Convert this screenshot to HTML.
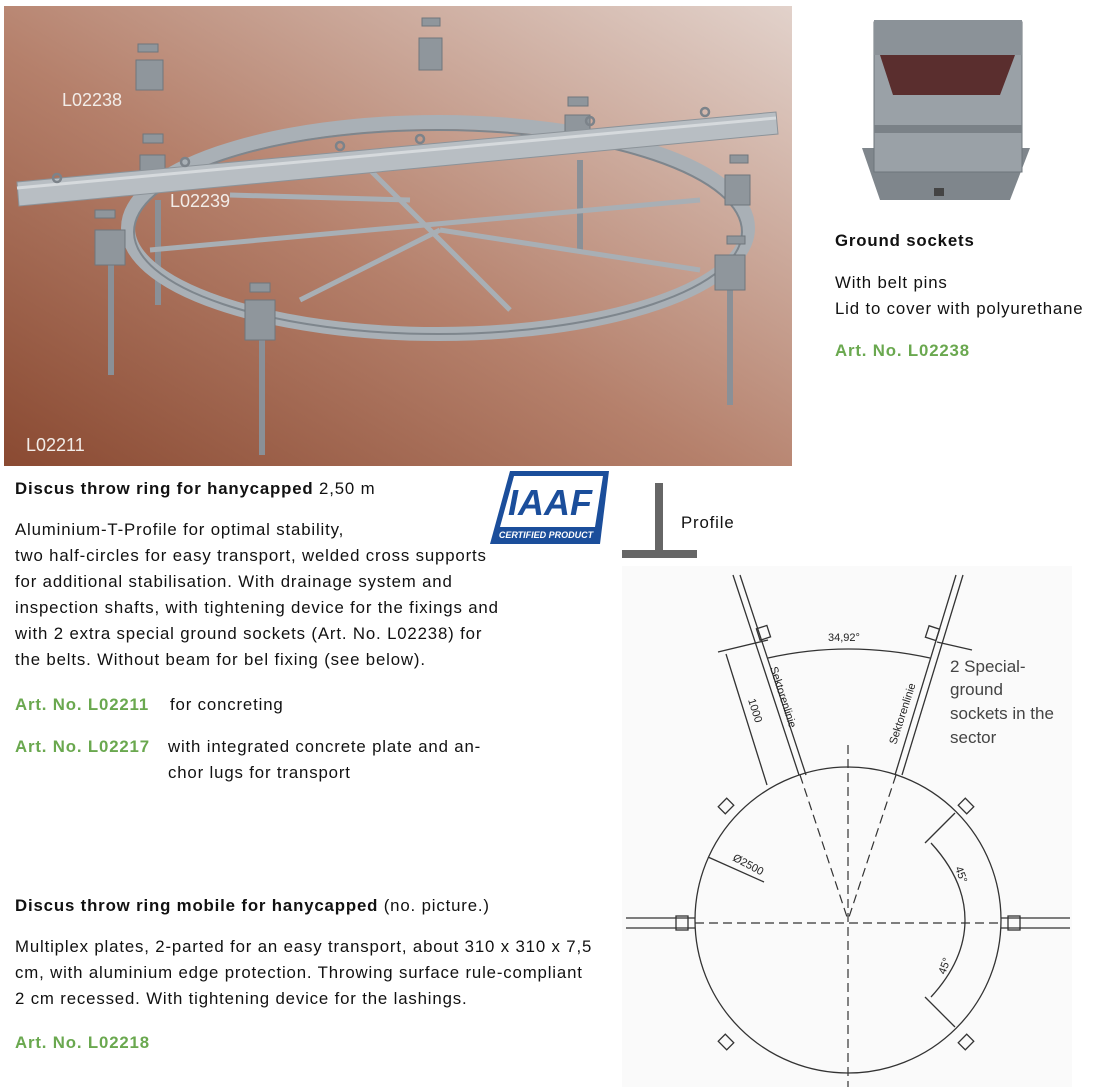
<!DOCTYPE html>
<html><head><meta charset="utf-8"><style>
body{margin:0;width:1104px;height:1087px;background:#fff;position:relative;overflow:hidden;font-family:"Liberation Sans",sans-serif;color:#111}
.t{position:absolute;font-size:16.8px;letter-spacing:0.85px;line-height:26px;white-space:nowrap}
.g{color:#6aa84f;font-weight:bold}
b{font-weight:bold}
</style></head><body>
<svg width="1104" height="1087" style="position:absolute;left:0;top:0">
<defs>
<linearGradient id="bg" x1="0" y1="1" x2="1" y2="0">
<stop offset="0" stop-color="#8a4a32"/><stop offset="0.45" stop-color="#b5806b"/><stop offset="1" stop-color="#e2d2cb"/>
</linearGradient>
</defs>
<rect x="4" y="6" width="788" height="460" fill="url(#bg)"/>
<g stroke="#8a9097" stroke-width="6">
<line x1="111" y1="250" x2="111" y2="375"/>
<line x1="262" y1="330" x2="262" y2="455"/>
<line x1="730" y1="290" x2="730" y2="405"/>
<line x1="580" y1="160" x2="580" y2="250"/>
<line x1="158" y1="200" x2="158" y2="305"/>
</g>
<ellipse cx="438" cy="228" rx="310" ry="106" fill="none" stroke="#a9b0b6" stroke-width="14"/>
<ellipse cx="438" cy="232" rx="304" ry="102" fill="none" stroke="#7e868d" stroke-width="2"/>
<g stroke="#a8afb5" stroke-width="5">
<line x1="150" y1="250" x2="700" y2="200"/>
<line x1="370" y1="170" x2="510" y2="310"/>
<line x1="300" y1="300" x2="440" y2="230"/>
<line x1="440" y1="230" x2="700" y2="270"/>
<line x1="230" y1="195" x2="410" y2="200"/>
</g>
<g fill="#8f969c" stroke="#6f767c">
<rect x="95" y="230" width="30" height="35"/><rect x="245" y="300" width="30" height="40"/>
<rect x="715" y="255" width="30" height="35"/><rect x="725" y="175" width="25" height="30"/>
<rect x="140" y="155" width="25" height="25"/><rect x="565" y="115" width="25" height="22"/>
<rect x="136" y="60" width="27" height="30"/><rect x="419" y="38" width="23" height="32"/>
<rect x="138" y="44" width="20" height="8"/><rect x="422" y="18" width="18" height="8"/>
<rect x="143" y="134" width="20" height="9"/><rect x="568" y="97" width="20" height="9"/>
<rect x="95" y="210" width="20" height="8"/><rect x="250" y="283" width="20" height="9"/>
<rect x="730" y="155" width="18" height="8"/><rect x="727" y="236" width="18" height="8"/>
</g>
<polygon points="17,182 776,112 778,134 19,206" fill="#b8bec3" stroke="#8c9399"/>
<line x1="17" y1="188" x2="776" y2="118" stroke="#d6dadd" stroke-width="3"/>
<g fill="none" stroke="#7c838a" stroke-width="2.5">
<circle cx="57" cy="178" r="4"/><circle cx="185" cy="162" r="4"/><circle cx="340" cy="146" r="4"/><circle cx="420" cy="139" r="4"/><circle cx="590" cy="121" r="4"/><circle cx="705" cy="112" r="4"/>
</g>
<text x="62" y="106" font-size="18" fill="#f2ece8" font-family="Liberation Sans">L02238</text>
<text x="170" y="207" font-size="18" fill="#f2ece8" font-family="Liberation Sans">L02239</text>
<text x="26" y="451" font-size="18" fill="#f2ece8" font-family="Liberation Sans">L02211</text>

<polygon points="862,148 1030,148 1010,200 880,200" fill="#7f868c"/>
<rect x="874" y="22" width="148" height="150" fill="#9aa1a7" stroke="#6e757b"/>
<rect x="874" y="125" width="148" height="8" fill="#7a8187"/>
<polygon points="880,55 1015,55 1000,95 893,95" fill="#5a2e2e"/>
<rect x="874" y="20" width="148" height="35" fill="#8b9298"/>
<rect x="934" y="188" width="10" height="8" fill="#444"/>

<g transform="translate(490,471)">
<polygon points="20,0 119,0 110,73 0,73" fill="#1b4e9b"/>
<polygon points="24,5 113,5 105,56 10,56" fill="#fff"/>
<text x="60" y="44" text-anchor="middle" font-size="36" font-weight="bold" font-style="italic" fill="#1b4e9b" font-family="Liberation Sans">IAAF</text>
<text x="56" y="67" text-anchor="middle" font-size="9" font-weight="bold" font-style="italic" fill="#fff" font-family="Liberation Sans">CERTIFIED PRODUCT</text>
</g>
<rect x="655" y="483" width="8" height="70" fill="#666"/>
<rect x="622" y="550" width="75" height="8" fill="#666"/>

<rect x="622" y="566" width="450" height="521" fill="#fafafa"/>
<g stroke="#333" fill="none" stroke-width="1.3">
<circle cx="848" cy="920" r="153"/>
<line x1="733" y1="575" x2="799" y2="775"/><line x1="740" y1="575" x2="806" y2="775"/>
<line x1="956" y1="575" x2="895" y2="775"/><line x1="963" y1="575" x2="902" y2="775"/>
<line x1="626" y1="918" x2="695" y2="918"/><line x1="626" y1="928" x2="695" y2="928"/>
<line x1="1001" y1="918" x2="1070" y2="918"/><line x1="1001" y1="928" x2="1070" y2="928"/>
<rect x="676" y="916" width="12" height="14"/><rect x="1008" y="916" width="12" height="14"/>
<rect x="758" y="627" width="11" height="12" transform="rotate(-18 763 633)"/>
<rect x="927" y="627" width="11" height="12" transform="rotate(18 932 633)"/>
<rect x="721" y="800" width="10" height="12" transform="rotate(45 726 806)"/>
<rect x="961" y="800" width="10" height="12" transform="rotate(-45 966 806)"/>
<rect x="721" y="1036" width="10" height="12" transform="rotate(-45 726 1042)"/>
<rect x="961" y="1036" width="10" height="12" transform="rotate(45 966 1042)"/>
<path d="M768 658 Q848 640 930 658"/>
<line x1="718" y1="652" x2="768" y2="640"/>
<line x1="726" y1="654" x2="767" y2="785"/>
<line x1="708" y1="857" x2="764" y2="882"/>
<line x1="937" y1="642" x2="972" y2="650"/>
<path d="M931 843 Q965 880 965 920 Q965 960 931 997"/>
<line x1="925" y1="843" x2="955" y2="813"/>
<line x1="925" y1="997" x2="955" y2="1027"/>
</g>
<g stroke="#333" stroke-width="1.2" stroke-dasharray="9,5" fill="none">
<line x1="848" y1="745" x2="848" y2="1087"/>
<line x1="695" y1="923" x2="1001" y2="923"/>
<line x1="800" y1="775" x2="848" y2="920"/><line x1="896" y1="775" x2="848" y2="920"/>
</g>
<g font-family="Liberation Sans" fill="#222" font-size="11">
<text x="828" y="641">34,92°</text>
<text transform="translate(770,668) rotate(72)">Sektorenlinie</text>
<text transform="translate(896,745) rotate(-72)">Sektorenlinie</text>
<text transform="translate(748,700) rotate(72)">1000</text>
<text transform="translate(732,860) rotate(28)">Ø2500</text>
<text transform="translate(955,868) rotate(70)">45°</text>
<text transform="translate(945,975) rotate(-70)">45°</text>
</g>
<g font-family="Liberation Sans" fill="#444" font-size="17">
<text x="950" y="672">2 Special-</text><text x="950" y="695">ground</text>
<text x="950" y="719">sockets in the</text><text x="950" y="743">sector</text>
</g>
</svg>

<div class="t" style="left:835px;top:228px"><b>Ground sockets</b></div>
<div class="t" style="left:835px;top:270px">With belt pins</div>
<div class="t" style="left:835px;top:296px">Lid to cover with polyurethane</div>
<div class="t g" style="left:835px;top:338px">Art. No. L02238</div>
<div class="t" style="left:681px;top:510px">Profile</div>

<div class="t" style="left:15px;top:476px"><b>Discus throw ring for hanycapped</b> 2,50 m</div>
<div class="t" style="left:15px;top:517px">Aluminium-T-Profile for optimal stability,</div>
<div class="t" style="left:15px;top:543px">two half-circles for easy transport, welded cross supports</div>
<div class="t" style="left:15px;top:569px">for additional stabilisation. With drainage system and</div>
<div class="t" style="left:15px;top:595px">inspection shafts, with tightening device for the fixings and</div>
<div class="t" style="left:15px;top:621px">with 2 extra special ground sockets (Art. No. L02238) for</div>
<div class="t" style="left:15px;top:647px">the belts. Without beam for bel fixing (see below).</div>
<div class="t g" style="left:15px;top:692px">Art. No. L02211</div>
<div class="t" style="left:170px;top:692px">for concreting</div>
<div class="t g" style="left:15px;top:734px">Art. No. L02217</div>
<div class="t" style="left:168px;top:734px">with integrated concrete plate and an-</div>
<div class="t" style="left:168px;top:760px">chor lugs for transport</div>

<div class="t" style="left:15px;top:893px"><b>Discus throw ring mobile for hanycapped</b> (no. picture.)</div>
<div class="t" style="left:15px;top:934px">Multiplex plates, 2-parted for an easy transport, about 310 x 310 x 7,5</div>
<div class="t" style="left:15px;top:960px">cm, with aluminium edge protection. Throwing surface rule-compliant</div>
<div class="t" style="left:15px;top:986px">2 cm recessed. With tightening device for the lashings.</div>
<div class="t g" style="left:15px;top:1030px">Art. No. L02218</div>
</body></html>
